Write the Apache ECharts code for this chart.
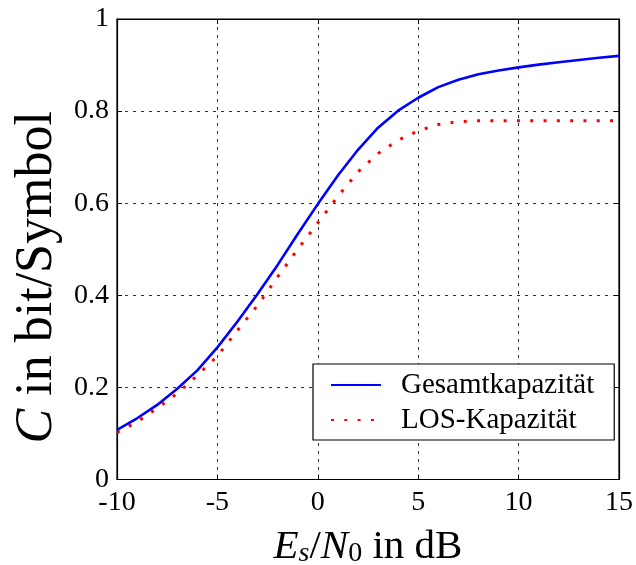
<!DOCTYPE html>
<html><head><meta charset="utf-8">
<script src="https://cdn.jsdelivr.net/npm/echarts@6/dist/echarts.min.js"></script>
<style>html,body{margin:0;padding:0;background:#fff}#c{width:636px;height:565px}</style>
</head><body><div id="c"></div>
<script>
var snrDb = [-10,-9,-8,-7,-6,-5,-4,-3,-2,-1,0,1,2,3,4,5,6,7,8,9,10,11,12,13,14,15];
var gesamtKapazitaet = [0.108,0.133,0.162,0.197,0.237,0.287,0.343,0.403,0.466,0.533,0.598,0.660,0.716,0.764,0.801,0.829,0.852,0.868,0.880,0.888,0.895,0.901,0.906,0.911,0.916,0.920];
var losKapazitaet = [0.102,0.125,0.155,0.187,0.226,0.268,0.324,0.378,0.440,0.500,0.557,0.615,0.668,0.708,0.737,0.757,0.771,0.777,0.779,0.779,0.779,0.779,0.779,0.779,0.779,0.779];
var xTicks = [-10,-5,0,5,10,15];
var yTicks = [0,0.2,0.4,0.6,0.8,1];
var seriesNames = ['Gesamtkapazität','LOS-Kapazität'];

var FONT = '"Liberation Serif", "DejaVu Serif", serif';
function pairs(ys){ return snrDb.map(function(x,i){ return [x, ys[i]]; }); }

var chart = echarts.init(document.getElementById('c'), null, {renderer:'canvas'});
var gridLine = {show:true, lineStyle:{color:'#333', width:1, type:[3,5]}};
var tick = {show:true, inside:true, length:5, lineStyle:{color:'#000'}};
chart.setOption({
  animation:false,
  backgroundColor:'#fff',
  grid:{left:117, right:17, top:19, bottom:85.5, show:true, borderColor:'#000', borderWidth:1.2, backgroundColor:'transparent', containLabel:false, outerBoundsMode:'none'},
  xAxis:[{
    type:'value', min:xTicks[0], max:xTicks[xTicks.length-1], interval:5,
    axisLine:{show:true, onZero:false, lineStyle:{color:'#000', width:1.2}},
    axisTick:tick, splitLine:gridLine,
    axisLabel:{color:'#000', fontFamily:FONT, fontSize:28, margin:9},
    name:'{i|E}{si|s}{n|/}{i|N}{su|0}{n| in dB}', nameLocation:'middle', nameGap:40,
    nameTextStyle:{color:'#000', fontFamily:FONT, fontSize:41,
      rich:{
        i:{fontFamily:FONT, fontSize:41, fontStyle:'italic', color:'#000', verticalAlign:'bottom', lineHeight:48},
        n:{fontFamily:FONT, fontSize:41, color:'#000', verticalAlign:'bottom', lineHeight:48},
        si:{fontFamily:FONT, fontSize:28, fontStyle:'italic', color:'#000', verticalAlign:'bottom', lineHeight:28},
        su:{fontFamily:FONT, fontSize:28, color:'#000', verticalAlign:'bottom', lineHeight:28}
      }}
  },{
    type:'value', position:'top', min:-10, max:15, interval:5,
    axisLine:{show:true, onZero:false, lineStyle:{color:'#000', width:1.2}},
    axisTick:tick, axisLabel:{show:false}, splitLine:{show:false}
  }],
  yAxis:[{
    type:'value', min:yTicks[0], max:yTicks[yTicks.length-1], interval:0.2,
    axisLine:{show:true, onZero:false, lineStyle:{color:'#000', width:1.2}},
    axisTick:tick, splitLine:gridLine,
    axisLabel:{color:'#000', fontFamily:FONT, fontSize:28, margin:8},
    name:'{i|C}{n| in bit/Symbol}', nameLocation:'middle', nameGap:48,
    nameTextStyle:{color:'#000', fontFamily:FONT, fontSize:52, padding:[0,56,0,0],
      rich:{
        i:{fontFamily:FONT, fontSize:52, fontStyle:'italic', color:'#000'},
        n:{fontFamily:FONT, fontSize:52, color:'#000'}
      }}
  },{
    type:'value', position:'right', min:0, max:1, interval:0.2,
    axisLine:{show:true, onZero:false, lineStyle:{color:'#000', width:1.2}},
    axisTick:tick, axisLabel:{show:false}, splitLine:{show:false}
  }],
  legend:{
    left:313, top:364, orient:'vertical',
    backgroundColor:'#fff', borderColor:'#000', borderWidth:1.2,
    padding:[6,20,5,17], itemGap:5, itemWidth:50, itemHeight:30,
    itemStyle:{opacity:0},
    textStyle:{color:'#000', fontFamily:FONT, fontSize:29, lineHeight:30, padding:[0,0,0,15]},
    data:seriesNames
  },
  series:[{
    name:seriesNames[0], type:'line', data:pairs(gesamtKapazitaet), showSymbol:false, symbol:'none',
    lineStyle:{color:'#0000ff', width:2.6}, itemStyle:{color:'#0000ff'}, z:3
  },{
    name:seriesNames[1], type:'line', data:pairs(losKapazitaet), showSymbol:false, symbol:'none',
    lineStyle:{color:'#ff0000', width:3, type:[3,10.3], cap:'butt'}, itemStyle:{color:'#ff0000'}, z:2
  }]
});
</script></body></html>
